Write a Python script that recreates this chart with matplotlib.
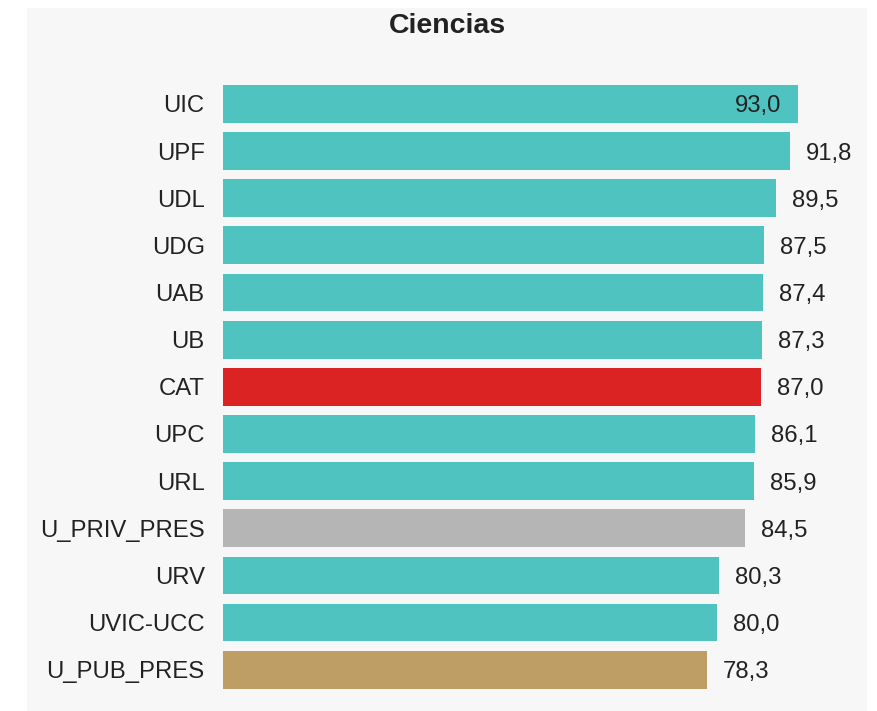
import matplotlib
matplotlib.use("Agg")
import matplotlib.pyplot as plt
from matplotlib.patches import Rectangle

plt.rcParams['font.family'] = ['Liberation Sans', 'DejaVu Sans']

universidades = ['UIC', 'UPF', 'UDL', 'UDG', 'UAB', 'UB', 'CAT', 'UPC', 'URL',
                 'U_PRIV_PRES', 'URV', 'UVIC-UCC', 'U_PUB_PRES']
valores = [93.0, 91.8, 89.5, 87.5, 87.4, 87.3, 87.0, 86.1, 85.9, 84.5, 80.3, 80.0, 78.3]

teal = '#4fc3bf'
colores_esp = {'CAT': '#dc2323', 'U_PRIV_PRES': '#b5b5b5', 'U_PUB_PRES': '#bf9e65'}
colores = [colores_esp.get(u, teal) for u in universidades]

W, H = 877, 711
fig = plt.figure(figsize=(W / 100, H / 100), dpi=100, facecolor='white')

# panel gris de fondo
fig.patches.append(Rectangle((27 / W, 0), (867 - 27) / W, 1 - 8 / H,
                             transform=fig.transFigure, facecolor='#f7f7f7',
                             edgecolor='none', zorder=-10))

left = 222.7 / W
right = 867 / W
bottom = 1 - 693.3 / H
top = 1 - 80.3 / H
ax = fig.add_axes([left, bottom, right - left, top - bottom])
ax.set_facecolor('none')
ax.set_zorder(1)

y = list(range(len(universidades)))
ax.barh(y, valores, height=0.8, color=colores)
ax.set_ylim(len(universidades) - 0.5, -0.5)
ax.set_xlim(0, (867 - 222.7) / 6.183)

ax.set_yticks(y)
ax.set_yticklabels(universidades, fontsize=17.2, color='#222222')
ax.tick_params(axis='y', length=0, pad=13)
ax.set_xticks([])
for s in ax.spines.values():
    s.set_visible(False)

for i, v in enumerate(valores):
    txt = f'{v:.1f}'.replace('.', ',')
    if i == 0:
        ax.annotate(txt, (v, i), xytext=(-12, 0), textcoords='offset points',
                    ha='right', va='center_baseline', fontsize=17.2, color='#222222')
    else:
        ax.annotate(txt, (v, i), xytext=(11.5, 0), textcoords='offset points',
                    ha='left', va='center_baseline', fontsize=17.2, color='#222222')

fig.text(447 / W, 1 - 26 / H, 'Ciencias', ha='center', va='center',
         fontsize=20.5, fontweight='bold', color='#222222')

fig.savefig('out.png', dpi=100, facecolor=fig.get_facecolor())
